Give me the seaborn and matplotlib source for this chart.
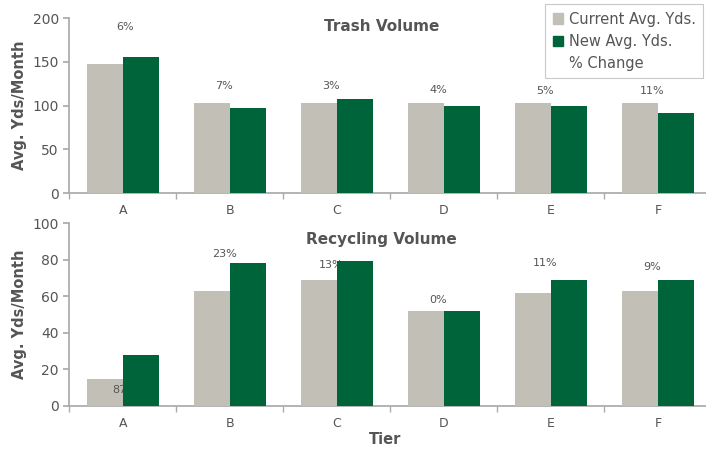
import pandas as pd
import matplotlib.pyplot as plt
import seaborn as sns
from matplotlib.patches import Patch
from matplotlib.lines import Line2D

tiers = ['A', 'B', 'C', 'D', 'E', 'F']
trash_current = [147, 103, 103, 103, 103, 103]
trash_new = [156, 97, 107, 100, 99, 92]
trash_pct = ['6%', '7%', '3%', '4%', '5%', '11%']
trash_pct_y = [190, 122, 122, 118, 117, 117]

recyc_current = [15, 63, 69, 52, 62, 63]
recyc_new = [28, 78, 79, 52, 69, 69]
recyc_pct = ['87%', '23%', '13%', '0%', '11%', '9%']
recyc_pct_y = [9, 83, 77, 58, 78, 76]

gray = '#C2C0B6'
green = '#00643A'
txt = '#555555'

sns.set_theme(style='white')
plt.rcParams['font.family'] = ['DejaVu Sans']

fig = plt.figure(figsize=(7.06, 4.51), dpi=100)
ax1 = fig.add_axes([0.098, 0.572, 0.902, 0.388])
ax2 = fig.add_axes([0.098, 0.0998, 0.902, 0.4057])


def draw(ax, cur, new, pct, pct_y, ymax, step, title, ty):
    df = pd.DataFrame({'tier': tiers * 2,
                       'val': cur + new,
                       'kind': ['Current Avg. Yds.'] * 6 + ['New Avg. Yds.'] * 6})
    sns.barplot(data=df, x='tier', y='val', hue='kind', palette=[gray, green],
                width=0.67, ax=ax, legend=False, saturation=1, linewidth=0)
    for bar in ax.containers[0]:
        bar.set_zorder(3)
    for bar in ax.containers[1]:
        bar.set_zorder(5)
    for i, (p, y) in enumerate(zip(pct, pct_y)):
        xo = -0.05 if i > 0 else 0.02
        ax.text(i + xo, y, p, ha='center', va='center', fontsize=8, color=txt, zorder=4)
    ax.set_xlim(-0.5, 5.45)
    ax.set_ylim(0, ymax)
    ax.set_yticks(range(0, ymax + 1, step))
    ax.set_xticks(range(6))
    ax.set_xticks([i + 0.5 for i in range(-1, 5)], minor=True)
    ax.tick_params(axis='x', which='major', length=0, labelsize=9, labelcolor=txt, pad=8)
    ax.tick_params(axis='x', which='minor', length=4, color='#aaaaaa', direction='out', bottom=True)
    ax.tick_params(axis='y', length=4, color='#aaaaaa', labelsize=10, labelcolor=txt, left=True)
    for s in ['top', 'right']:
        ax.spines[s].set_visible(False)
    for s in ['left', 'bottom']:
        ax.spines[s].set_color('#aaaaaa')
    ax.set_ylabel('Avg. Yds/Month', fontsize=10.5, fontweight='bold', color=txt)
    ax.set_xlabel('')
    ax.text(2.42, ty, title, ha='center', va='center', fontsize=11,
            fontweight='bold', color=txt)


draw(ax1, trash_current, trash_new, trash_pct, trash_pct_y, 200, 50, 'Trash Volume', 190)
draw(ax2, recyc_current, recyc_new, recyc_pct, recyc_pct_y, 100, 20, 'Recycling Volume', 91)
fig.text(0.545, 0.025, 'Tier', ha='center', va='center', fontsize=10.5,
         fontweight='bold', color=txt)

handles = [Patch(color=gray), Patch(color=green), Line2D([], [], color='none')]
leg = fig.legend(handles, ['Current Avg. Yds.', 'New Avg. Yds.', '% Change'],
                 loc='upper right', bbox_to_anchor=(1.0, 0.997), frameon=True,
                 fontsize=10.5, handlelength=0.7, handleheight=0.7, handletextpad=0.4,
                 labelspacing=0.5, borderpad=0.5, borderaxespad=0.2, fancybox=False,
                 labelcolor=txt)
leg.get_frame().set_edgecolor('#bbbbbb')
leg.get_frame().set_linewidth(0.8)

fig.savefig('out.png', dpi=100)
